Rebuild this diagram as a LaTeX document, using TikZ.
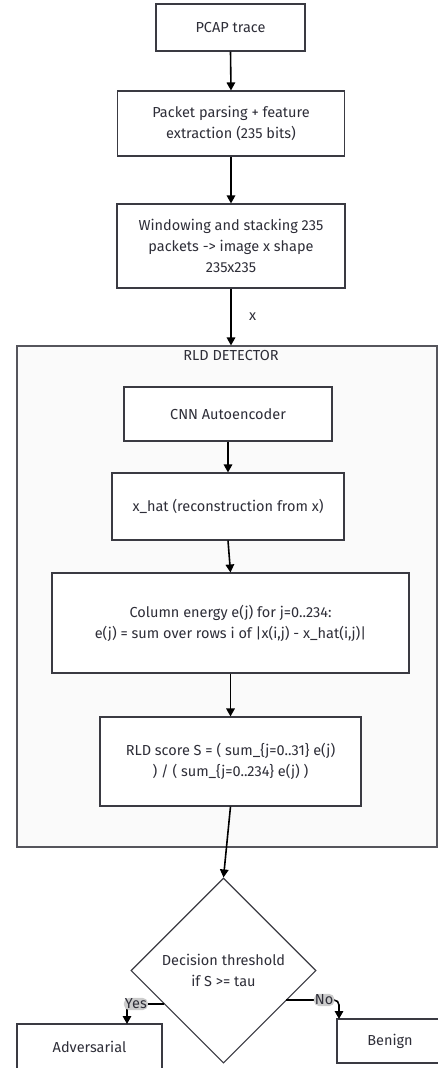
\documentclass[tikz,border=0pt]{standalone}
\usepackage{fontspec}
\setmainfont{Fira Sans}
\usetikzlibrary{arrows.meta,shapes.geometric,positioning}

\definecolor{boxline}{HTML}{3A3A42}
\definecolor{inktext}{HTML}{2E2E38}
\definecolor{clusterfill}{HTML}{FAFAFA}
\definecolor{clusterline}{HTML}{55555C}
\definecolor{labelfill}{HTML}{CCCCCC}

\begin{document}
\begin{tikzpicture}[x=1pt,y=-1pt,->,>={Triangle[length=8pt,width=8.5pt]},
line width=1.6pt,
every node/.style={font=\fontsize{14.5}{21}\selectfont,text=inktext}]
\tikzstyle{proc}=[rectangle,draw=boxline,fill=white,line width=1.1pt,
  align=center,inner sep=0pt]
\tikzstyle{decision}=[diamond,draw=boxline,fill=white,line width=1.1pt,
  align=center,inner sep=0pt,minimum width=185pt,minimum height=185pt]
\tikzstyle{cluster}=[rectangle,draw=clusterline,fill=clusterfill,
  line width=1.1pt,inner sep=0pt]
\tikzstyle{elabel}=[fill=labelfill,inner sep=1pt]

\useasboundingbox (0,0) rectangle (437,1068);

% detector group
\node[cluster,minimum width=420pt,minimum height=501pt] (rld) at (227,596.5) {};
\node (rldtitle) at (231,356) {RLD DETECTOR};

% main steps
\node[proc,minimum width=149pt,minimum height=47pt] (pcap) at (230.5,27.5) {PCAP trace};
\node[proc,minimum width=227pt,minimum height=65pt] (parse) at (231,123.5)
  {Packet parsing + feature\\extraction (235 bits)};
\node[proc,minimum width=228pt,minimum height=84pt] (window) at (231,246)
  {Windowing and stacking 235\\packets -> image x shape\\235x235};

\node[proc,minimum width=208pt,minimum height=54pt] (cnn) at (228,414) {CNN Autoencoder};
\node[proc,minimum width=232pt,minimum height=67pt] (xhat) at (228,506.5)
  {x\_hat (reconstruction from x)};
\node[proc,minimum width=357pt,minimum height=100pt] (colen) at (230.5,623)
  {Column energy e(j) for j=0..234:\\e(j) = sum over rows i of |x(i,j) - x\_hat(i,j)|};
\node[proc,minimum width=261pt,minimum height=89pt] (score) at (230.5,761.5)
  {RLD score S = ( sum\_\{j=0..31\} e(j)\\) / ( sum\_\{j=0..234\} e(j) )};

\node[decision] (dec) at (223.5,970.5) {Decision threshold\\if S >= tau};
\node[proc,minimum width=145pt,minimum height=46pt] (adv) at (89.5,1047) {Adversarial};
\node[proc,minimum width=106pt,minimum height=44pt] (benign) at (390,1041) {Benign};

\coordinate (yesout) at (164,1004);
\coordinate (yesin) at (127,1024);
\coordinate (noout) at (286,1000);
\coordinate (noin) at (339,1019);

\draw (pcap.south) -- (parse.north);
\draw (parse.south) -- (window.north);
\draw (window.south) -- node[right=14pt] {x} (rld.north -| window.south);
\draw (cnn.south) -- (xhat.north);
\draw (xhat.south) -- (colen.north);
\draw (colen.south) -- (score.north);
\draw (score.south) -- (dec.north);
\draw[rounded corners=5pt] (yesout) -| node[elabel,pos=0.38] {Yes} (yesin);
\draw[rounded corners=5pt] (noout) -| node[elabel,pos=0.36] {No} (noin);
\end{tikzpicture}
\end{document}
